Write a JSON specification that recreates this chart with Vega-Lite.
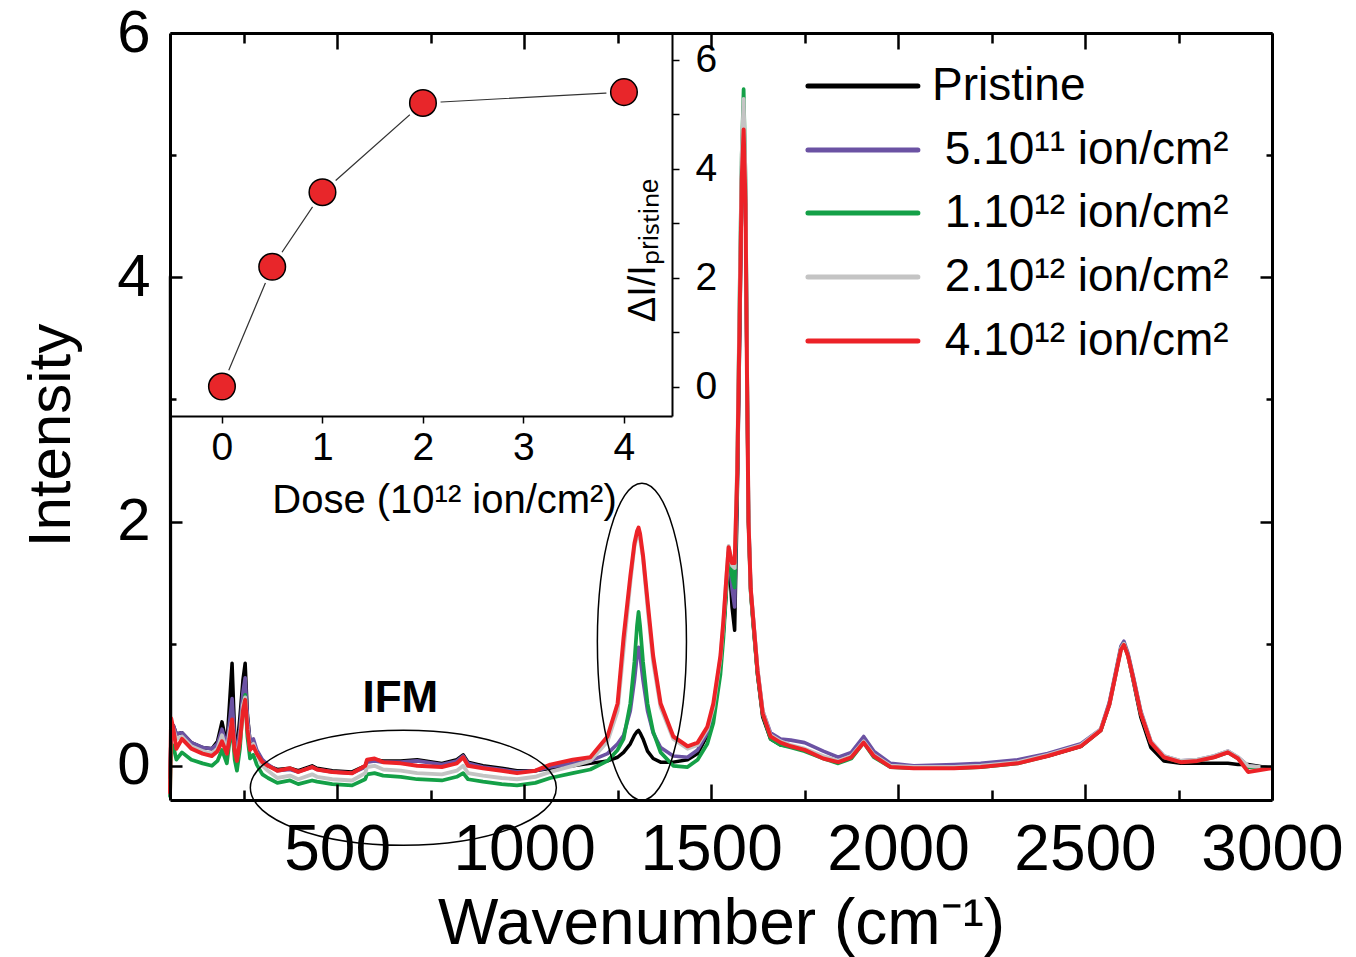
{
  "$schema": "https://vega.github.io/schema/vega-lite/v6.json",
  "width": 1102,
  "height": 767,
  "autosize": {"type": "none"},
  "padding": {"left": 170, "top": 33, "right": 84, "bottom": 157},
  "background": "white",
  "config": {
    "font": "Liberation Sans",
    "view": {"stroke": null},
    "axis": {"grid": false, "domainColor": "black", "tickColor": "black", "labelColor": "black", "titleColor": "black", "labelFont": "Liberation Sans", "titleFont": "Liberation Sans", "titleFontWeight": "normal", "labelFlush": false, "labelOverlap": false}
  },
  "layer": [
    {
      "layer": [
        {
          "data": {"values": [
            {"w":53,"p":-0.1,"a":-0.2,"b":-0.25,"c":4.0,"d":-0.22},
            {"w":56,"p":0.3,"a":0.3,"b":0.18,"c":0.3,"d":0.39},
            {"w":62,"p":0.33,"a":0.33,"b":0.16,"c":0.3,"d":0.3},
            {"w":70,"p":0.26,"a":0.26,"b":0.05,"c":0.22,"d":0.14},
            {"w":85,"p":0.27,"a":0.27,"b":0.11,"c":0.24,"d":0.22},
            {"w":110,"p":0.19,"a":0.19,"b":0.05,"c":0.16,"d":0.14},
            {"w":140,"p":0.15,"a":0.15,"b":0.02,"c":0.12,"d":0.1},
            {"w":165,"p":0.14,"a":0.14,"b":0.0,"c":0.1,"d":0.08},
            {"w":180,"p":0.2,"a":0.18,"b":0.04,"c":0.14,"d":0.12},
            {"w":192,"p":0.36,"a":0.3,"b":0.13,"c":0.25,"d":0.2},
            {"w":205,"p":0.17,"a":0.16,"b":0.02,"c":0.12,"d":0.1},
            {"w":212,"p":0.5,"a":0.35,"b":0.19,"c":0.28,"d":0.22},
            {"w":219,"p":0.84,"a":0.55,"b":0.33,"c":0.37,"d":0.38},
            {"w":226,"p":0.25,"a":0.2,"b":0.05,"c":0.15,"d":0.12},
            {"w":232,"p":0.14,"a":0.12,"b":-0.04,"c":0.06,"d":0.04},
            {"w":240,"p":0.4,"a":0.3,"b":0.14,"c":0.22,"d":0.2},
            {"w":248,"p":0.7,"a":0.6,"b":0.48,"c":0.5,"d":0.45},
            {"w":254,"p":0.84,"a":0.72,"b":0.58,"c":0.56,"d":0.54},
            {"w":260,"p":0.42,"a":0.4,"b":0.24,"c":0.33,"d":0.3},
            {"w":267,"p":0.2,"a":0.2,"b":0.06,"c":0.15,"d":0.13},
            {"w":276,"p":0.18,"a":0.22,"b":0.09,"c":0.18,"d":0.16},
            {"w":285,"p":0.12,"a":0.13,"b":0.01,"c":0.1,"d":0.1},
            {"w":300,"p":0.04,"a":0.05,"b":-0.07,"c":0.0,"d":0.03},
            {"w":315,"p":0.0,"a":0.01,"b":-0.1,"c":-0.04,"d":0.0},
            {"w":340,"p":-0.03,"a":-0.04,"b":-0.14,"c":-0.1,"d":-0.04},
            {"w":374,"p":-0.02,"a":-0.03,"b":-0.12,"c":-0.08,"d":-0.02},
            {"w":396,"p":-0.04,"a":-0.05,"b":-0.15,"c":-0.11,"d":-0.05},
            {"w":433,"p":0.0,"a":-0.01,"b":-0.12,"c":-0.07,"d":-0.01},
            {"w":446,"p":-0.02,"a":-0.03,"b":-0.13,"c":-0.09,"d":-0.03},
            {"w":487,"p":-0.04,"a":-0.05,"b":-0.15,"c":-0.11,"d":-0.05},
            {"w":540,"p":-0.05,"a":-0.06,"b":-0.16,"c":-0.12,"d":-0.06},
            {"w":575,"p":0.0,"a":-0.01,"b":-0.11,"c":-0.06,"d":0.0},
            {"w":580,"p":0.04,"a":0.03,"b":-0.07,"c":-0.01,"d":0.05},
            {"w":600,"p":0.05,"a":0.04,"b":-0.06,"c":0.0,"d":0.06},
            {"w":623,"p":0.04,"a":0.03,"b":-0.08,"c":-0.03,"d":0.03},
            {"w":670,"p":0.04,"a":0.03,"b":-0.09,"c":-0.04,"d":0.02},
            {"w":714,"p":0.05,"a":0.04,"b":-0.11,"c":-0.06,"d":0.0},
            {"w":780,"p":0.02,"a":0.01,"b":-0.12,"c":-0.07,"d":-0.01},
            {"w":820,"p":0.05,"a":0.04,"b":-0.09,"c":-0.04,"d":0.02},
            {"w":837,"p":0.09,"a":0.08,"b":-0.06,"c":0.0,"d":0.07},
            {"w":850,"p":0.03,"a":0.02,"b":-0.11,"c":-0.06,"d":0.0},
            {"w":890,"p":0.0,"a":-0.01,"b":-0.13,"c":-0.08,"d":-0.02},
            {"w":940,"p":-0.02,"a":-0.03,"b":-0.15,"c":-0.1,"d":-0.04},
            {"w":981,"p":-0.04,"a":-0.05,"b":-0.16,"c":-0.11,"d":-0.06},
            {"w":1030,"p":-0.04,"a":-0.04,"b":-0.14,"c":-0.09,"d":-0.04},
            {"w":1070,"p":-0.02,"a":-0.01,"b":-0.1,"c":-0.05,"d":0.01},
            {"w":1130,"p":0.0,"a":0.02,"b":-0.06,"c":0.0,"d":0.05},
            {"w":1177,"p":0.02,"a":0.04,"b":-0.03,"c":0.04,"d":0.07},
            {"w":1223,"p":0.04,"a":0.1,"b":0.04,"c":0.2,"d":0.24},
            {"w":1250,"p":0.07,"a":0.18,"b":0.13,"c":0.45,"d":0.51},
            {"w":1266,"p":0.11,"a":0.25,"b":0.22,"c":0.95,"d":1.05},
            {"w":1284,"p":0.18,"a":0.45,"b":0.51,"c":1.5,"d":1.55},
            {"w":1295,"p":0.25,"a":0.7,"b":0.85,"c":1.8,"d":1.82},
            {"w":1302,"p":0.28,"a":0.9,"b":1.15,"c":1.88,"d":1.92},
            {"w":1306,"p":0.29,"a":0.97,"b":1.26,"c":1.9,"d":1.95},
            {"w":1310,"p":0.27,"a":0.9,"b":1.15,"c":1.86,"d":1.9},
            {"w":1318,"p":0.22,"a":0.7,"b":0.85,"c":1.7,"d":1.72},
            {"w":1330,"p":0.12,"a":0.45,"b":0.51,"c":1.3,"d":1.35},
            {"w":1345,"p":0.06,"a":0.27,"b":0.28,"c":0.85,"d":0.9},
            {"w":1365,"p":0.03,"a":0.15,"b":0.11,"c":0.48,"d":0.51},
            {"w":1399,"p":0.03,"a":0.08,"b":0.0,"c":0.22,"d":0.24},
            {"w":1437,"p":0.05,"a":0.07,"b":-0.01,"c":0.14,"d":0.16},
            {"w":1464,"p":0.1,"a":0.13,"b":0.05,"c":0.17,"d":0.19},
            {"w":1490,"p":0.25,"a":0.27,"b":0.18,"c":0.3,"d":0.32},
            {"w":1506,"p":0.45,"a":0.45,"b":0.35,"c":0.48,"d":0.51},
            {"w":1525,"p":0.85,"a":0.85,"b":0.75,"c":0.88,"d":0.9},
            {"w":1533,"p":1.1,"a":1.12,"b":1.05,"c":1.17,"d":1.19},
            {"w":1540,"p":1.4,"a":1.45,"b":1.4,"c":1.5,"d":1.5},
            {"w":1547,"p":1.75,"a":1.75,"b":1.75,"c":1.8,"d":1.79},
            {"w":1556,"p":1.3,"a":1.45,"b":1.55,"c":1.64,"d":1.66},
            {"w":1563,"p":1.11,"a":1.3,"b":1.46,"c":1.62,"d":1.66},
            {"w":1570,"p":2.2,"a":2.3,"b":2.4,"c":2.5,"d":2.4},
            {"w":1577,"p":3.6,"a":3.8,"b":4.0,"c":4.0,"d":3.8},
            {"w":1582,"p":4.7,"a":4.9,"b":5.0,"c":5.0,"d":4.8},
            {"w":1587,"p":5.3,"a":5.4,"b":5.54,"c":5.46,"d":5.21},
            {"w":1592,"p":4.6,"a":4.7,"b":4.8,"c":4.8,"d":4.6},
            {"w":1596,"p":3.2,"a":3.3,"b":3.3,"c":3.3,"d":3.2},
            {"w":1600,"p":2.0,"a":2.05,"b":2.0,"c":2.05,"d":2.0},
            {"w":1606,"p":1.42,"a":1.45,"b":1.42,"c":1.45,"d":1.45},
            {"w":1613,"p":1.15,"a":1.2,"b":1.15,"c":1.2,"d":1.19},
            {"w":1624,"p":0.75,"a":0.8,"b":0.76,"c":0.8,"d":0.78},
            {"w":1638,"p":0.4,"a":0.45,"b":0.42,"c":0.45,"d":0.43},
            {"w":1659,"p":0.22,"a":0.27,"b":0.22,"c":0.25,"d":0.24},
            {"w":1686,"p":0.17,"a":0.22,"b":0.17,"c":0.2,"d":0.19},
            {"w":1713,"p":0.16,"a":0.21,"b":0.15,"c":0.17,"d":0.16},
            {"w":1750,"p":0.13,"a":0.19,"b":0.12,"c":0.14,"d":0.13},
            {"w":1800,"p":0.07,"a":0.12,"b":0.06,"c":0.08,"d":0.06},
            {"w":1840,"p":0.03,"a":0.07,"b":0.02,"c":0.04,"d":0.03},
            {"w":1875,"p":0.07,"a":0.11,"b":0.06,"c":0.08,"d":0.07},
            {"w":1908,"p":0.2,"a":0.24,"b":0.19,"c":0.2,"d":0.19},
            {"w":1935,"p":0.08,"a":0.12,"b":0.07,"c":0.09,"d":0.08},
            {"w":1980,"p":0.0,"a":0.02,"b":-0.01,"c":0.0,"d":-0.01},
            {"w":2042,"p":-0.01,"a":0.0,"b":-0.02,"c":-0.01,"d":-0.02},
            {"w":2150,"p":-0.01,"a":0.01,"b":-0.02,"c":-0.01,"d":-0.02},
            {"w":2221,"p":0.0,"a":0.02,"b":-0.01,"c":0.0,"d":-0.01},
            {"w":2320,"p":0.03,"a":0.05,"b":0.02,"c":0.03,"d":0.02},
            {"w":2400,"p":0.08,"a":0.1,"b":0.08,"c":0.09,"d":0.08},
            {"w":2489,"p":0.16,"a":0.18,"b":0.16,"c":0.17,"d":0.16},
            {"w":2542,"p":0.29,"a":0.3,"b":0.29,"c":0.3,"d":0.29},
            {"w":2565,"p":0.5,"a":0.52,"b":0.5,"c":0.5,"d":0.5},
            {"w":2580,"p":0.72,"a":0.74,"b":0.72,"c":0.72,"d":0.72},
            {"w":2596,"p":0.96,"a":0.98,"b":0.96,"c":0.96,"d":0.95},
            {"w":2604,"p":1.0,"a":1.02,"b":1.0,"c":1.0,"d":0.99},
            {"w":2615,"p":0.9,"a":0.92,"b":0.9,"c":0.9,"d":0.9},
            {"w":2630,"p":0.68,"a":0.72,"b":0.7,"c":0.7,"d":0.7},
            {"w":2649,"p":0.4,"a":0.45,"b":0.43,"c":0.44,"d":0.43},
            {"w":2676,"p":0.15,"a":0.2,"b":0.19,"c":0.2,"d":0.19},
            {"w":2711,"p":0.04,"a":0.08,"b":0.07,"c":0.08,"d":0.07},
            {"w":2756,"p":0.02,"a":0.04,"b":0.03,"c":0.04,"d":0.03},
            {"w":2800,"p":0.02,"a":0.05,"b":0.04,"c":0.05,"d":0.04},
            {"w":2845,"p":0.02,"a":0.08,"b":0.07,"c":0.08,"d":0.07},
            {"w":2882,"p":0.02,"a":0.12,"b":0.11,"c":0.12,"d":0.11},
            {"w":2909,"p":0.01,"a":0.07,"b":0.06,"c":0.07,"d":0.06},
            {"w":2936,"p":0.01,"a":0.0,"b":-0.01,"c":0.0,"d":-0.05},
            {"w":2997,"p":-0.02,"a":-0.02,"b":-0.02,"c":-0.02,"d":-0.02}
          ]},
          "transform": [{"fold": ["p", "a", "b", "c", "d"], "as": ["key", "val"]}],
          "mark": {"type": "line", "strokeJoin": "round", "strokeCap": "round"},
          "encoding": {
            "x": {"field": "w", "type": "quantitative",
              "scale": {"domain": [53, 3000], "nice": false, "zero": false},
              "axis": {"orient": "bottom", "values": [250,500,750,1000,1250,1500,1750,2000,2250,2500,2750,3000],
                "format": "d",
                "labelExpr": "datum.value % 500 === 0 ? datum.label : ''",
                "tickSize": {"condition": {"test": "datum.value % 500 === 0", "value": -16}, "value": -10},
                "tickWidth": 2.5, "domainWidth": 3, "labelFontSize": 64, "labelPadding": 34,
                "title": "Wavenumber (cm⁻¹)", "titleFontSize": 64, "titleX": 551, "titleY": 143,
                "titleBaseline": "alphabetic", "titleAlign": "center", "zindex": 1}},
            "y": {"field": "val", "type": "quantitative",
              "scale": {"domain": [-0.28, 6], "nice": false, "zero": false},
              "axis": {"orient": "left", "values": [0,1,2,3,4,5,6],
                "labelExpr": "datum.value % 2 === 0 ? datum.label : ''",
                "tickSize": {"condition": {"test": "datum.value % 2 === 0", "value": -12}, "value": -6},
                "tickWidth": 2.5, "domainWidth": 3, "labelFontSize": 60, "labelPadding": 32,
                "title": "Intensity", "titleFontSize": 60, "titleX": -101, "titleY": 402, "titleAngle": 270,
                "titleBaseline": "alphabetic", "titleAlign": "center", "zindex": 1}},
            "color": {"field": "key", "type": "nominal",
              "scale": {"domain": ["p", "a", "b", "c", "d"], "range": ["#000000", "#6b52a3", "#14a047", "#c4c4c4", "#ec2227"]},
              "legend": null},
            "strokeWidth": {"field": "key", "type": "nominal",
              "scale": {"domain": ["p", "a", "b", "c", "d"], "range": [3.5, 4, 4, 6.5, 4.5]},
              "legend": null}
          }
        },
        {
          "data": {"values": [
            {"key": "p", "x1": 1759, "x2": 2053, "lx": 2091, "ly": 5.566, "label": "Pristine"},
            {"key": "a", "x1": 1759, "x2": 2053, "lx": 2125, "ly": 5.042, "label": "5.10¹¹ ion/cm²"},
            {"key": "b", "x1": 1759, "x2": 2053, "lx": 2125, "ly": 4.526, "label": "1.10¹² ion/cm²"},
            {"key": "c", "x1": 1759, "x2": 2053, "lx": 2125, "ly": 4.002, "label": "2.10¹² ion/cm²"},
            {"key": "d", "x1": 1759, "x2": 2053, "lx": 2125, "ly": 3.478, "label": "4.10¹² ion/cm²"}
          ]},
          "layer": [
            {
              "mark": {"type": "rule", "strokeWidth": 5, "strokeCap": "round"},
              "encoding": {
                "x": {"field": "x1", "type": "quantitative", "axis": null},
                "x2": {"field": "x2"},
                "y": {"field": "ly", "type": "quantitative", "axis": null},
                "color": {"field": "key", "type": "nominal", "legend": null}
              }
            },
            {
              "mark": {"type": "text", "font": "Liberation Sans", "fontSize": 46, "color": "black", "align": "left", "baseline": "middle"},
              "encoding": {
                "x": {"field": "lx", "type": "quantitative", "axis": null},
                "y": {"field": "ly", "type": "quantitative", "axis": null},
                "text": {"field": "label"}
              }
            }
          ]
        },
        {
          "data": {"values": [{"w": 677, "val": -0.18}]},
          "mark": {"type": "point", "filled": false, "stroke": "black", "strokeWidth": 1.5, "opacity": 1, "size": 93636,
            "shape": "M1,0 C1,0.2077 0.5523,0.376 0,0.376 C-0.5523,0.376 -1,0.2077 -1,0 C-1,-0.2077 -0.5523,-0.376 0,-0.376 C0.5523,-0.376 1,-0.2077 1,0 Z"},
          "encoding": {
            "x": {"field": "w", "type": "quantitative", "axis": null},
            "y": {"field": "val", "type": "quantitative", "axis": null}
          }
        },
        {
          "data": {"values": [{"w": 1315, "val": 1.016}]},
          "mark": {"type": "point", "filled": false, "stroke": "black", "strokeWidth": 1.5, "opacity": 1, "size": 100489,
            "shape": "M0.281,0 C0.281,0.5523 0.1552,1 0,1 C-0.1552,1 -0.281,0.5523 -0.281,0 C-0.281,-0.5523 -0.1552,-1 0,-1 C0.1552,-1 0.281,-0.5523 0.281,0 Z"},
          "encoding": {
            "x": {"field": "w", "type": "quantitative", "axis": null},
            "y": {"field": "val", "type": "quantitative", "axis": null}
          }
        },
        {
          "data": {"values": [{"w": 669, "val": 0.547, "t": "IFM"}]},
          "mark": {"type": "text", "font": "Liberation Sans", "fontSize": 44, "fontWeight": "bold", "color": "black", "align": "center", "baseline": "middle"},
          "encoding": {
            "text": {"field": "t"},
            "x": {"field": "w", "type": "quantitative",
              "axis": {"orient": "top", "values": [250,500,750,1000,1250,1500,1750,2000,2250,2500,2750,3000],
                "labels": false, "title": null,
                "tickSize": {"condition": {"test": "datum.value % 500 === 0", "value": -16}, "value": -10},
                "tickWidth": 2.5, "domainWidth": 3, "zindex": 1}},
            "y": {"field": "val", "type": "quantitative",
              "axis": {"orient": "right", "values": [0,1,2,3,4,5,6],
                "labels": false, "title": null,
                "tickSize": {"condition": {"test": "datum.value % 2 === 0", "value": -12}, "value": -6},
                "tickWidth": 2.5, "domainWidth": 3, "zindex": 1}}
          }
        }
      ],
      "resolve": {"axis": {"x": "independent", "y": "independent"}}
    },
    {
      "layer": [
        {
          "data": {"values": [{"x0": -0.517, "x1": 4.478, "y0": -0.542, "y1": 6.496}]},
          "mark": {"type": "rect", "fill": "white"},
          "encoding": {
            "x": {"field": "x0", "type": "quantitative",
              "scale": {"domain": [-0.517, 4.478], "range": [0, 502], "nice": false, "zero": false},
              "axis": {"orient": "bottom", "offset": -384, "values": [0,0.5,1,1.5,2,2.5,3,3.5,4],
                "format": "d",
                "labelExpr": "datum.value % 1 === 0 ? datum.label : ''",
                "tickSize": 7, "tickWidth": 1.5, "domainWidth": 2, "labelFontSize": 39, "labelPadding": 5,
                "title": "Dose (10¹² ion/cm²)", "titleFontSize": 40, "titleX": 274, "titleY": 96,
                "titleBaseline": "alphabetic", "titleAlign": "center", "zindex": 1}},
            "x2": {"field": "x1"},
            "y": {"field": "y0", "type": "quantitative",
              "scale": {"domain": [-0.542, 6.496], "range": [383, 0], "nice": false, "zero": false},
              "axis": {"orient": "right", "offset": -600, "values": [0,1,2,3,4,5,6],
                "format": "d",
                "labelExpr": "datum.value % 2 === 0 ? datum.label : ''",
                "tickSize": 7, "tickWidth": 1.5, "domainWidth": 2, "labelFontSize": 39, "labelPadding": 16,
                "title": "ΔI/Iₚᵣᵢₛₜᵢₙₑ", "titleFontSize": 38, "titleX": -18, "titleY": 217, "titleAngle": 270,
                "titleBaseline": "alphabetic", "titleAlign": "center", "zindex": 1}},
            "y2": {"field": "y1"}
          }
        },
        {
          "data": {"values": [
            {"dose": 0, "dI": 0.0},
            {"dose": 0.5, "dI": 2.2},
            {"dose": 1, "dI": 3.57},
            {"dose": 2, "dI": 5.21},
            {"dose": 4, "dI": 5.41}
          ]},
          "layer": [
            {"mark": {"type": "line", "color": "#333333", "strokeWidth": 1.2}},
            {"mark": {"type": "point", "filled": true, "shape": "circle", "fill": "white", "stroke": null, "size": 1250, "opacity": 1}},
            {"mark": {"type": "point", "filled": true, "shape": "circle", "fill": "#e8262a", "stroke": "black", "strokeWidth": 1.5, "size": 707, "opacity": 1}}
          ],
          "encoding": {
            "x": {"field": "dose", "type": "quantitative"},
            "y": {"field": "dI", "type": "quantitative"}
          }
        }
      ]
    }
  ],
  "resolve": {"scale": {"x": "independent", "y": "independent"}, "axis": {"x": "independent", "y": "independent"}}
}
